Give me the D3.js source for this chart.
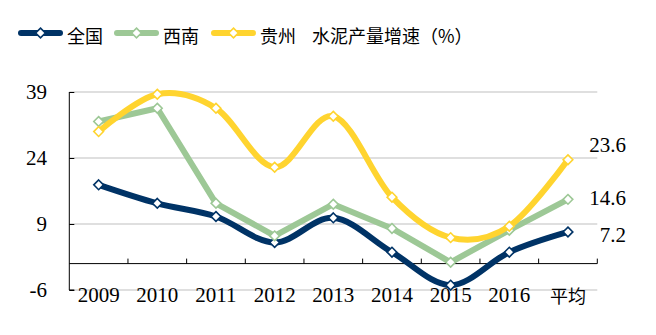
<!DOCTYPE html>
<html>
<head>
<meta charset="utf-8">
<script src="https://cdn.jsdelivr.net/npm/d3@7"></script>
<style>
  html, body { margin: 0; padding: 0; background: #fff; }
  svg { display: block; }
</style>
</head>
<body>
<svg id="chart" width="656" height="335"></svg>
<script>
// Cement output growth (%), 2009–2016 plus the period average
const categories = ["2009", "2010", "2011", "2012", "2013", "2014", "2015", "2016", "平均"];
const nationalValues  = [17.9, 13.7, 10.7, 4.8, 10.4, 2.6, -4.9, 2.6, 7.2];
const southwestValues = [32.3, 35.3, 13.7, 6.3, 13.5, 8.0, 0.3, 7.6, 14.6];
const guizhouValues   = [30.0, 38.5, 35.3, 21.9, 33.5, 15.1, 5.9, 8.5, 23.6];
const yTicks = [-6, 9, 24, 39];
const seriesNames = ["全国", "西南", "贵州"];
const legendTitle = "水泥产量增速（%）";

const series = [
  { name: seriesNames[0], values: nationalValues,  color: "#003366", smooth: true,  labelDy: 3 },
  { name: seriesNames[1], values: southwestValues, color: "#9DC896", smooth: false, labelDy: -1 },
  { name: seriesNames[2], values: guizhouValues,   color: "#FFD42F", smooth: true,  labelDy: -15 }
];

const svg = d3.select("#chart");
const serif = "'Liberation Serif', 'Times New Roman', serif";
const cjk = "'Noto Sans CJK SC', sans-serif";

const x = d3.scaleBand().domain(categories).range([69.3, 597.3]);
const y = d3.scaleLinear().domain([-6, 39]).range([290, 92]);
const cx = c => x(c) + x.bandwidth() / 2;

// horizontal gridlines
svg.append("g")
  .selectAll("line")
  .data(yTicks)
  .join("line")
  .attr("x1", x.range()[0]).attr("x2", x.range()[1])
  .attr("y1", d => y(d)).attr("y2", d => y(d))
  .attr("stroke", "#BFBFBF").attr("stroke-width", 1);

// y axis, ticks pointing inward
const yAxis = svg.append("g")
  .attr("transform", `translate(${x.range()[0]},0)`)
  .call(d3.axisRight(y).tickValues(yTicks).tickSize(5).tickFormat(""));
yAxis.select(".domain").attr("stroke", "#000").attr("d", `M5,${y(-6)}H0V${y(39)}`);
yAxis.selectAll(".tick line").attr("stroke", "#000");

svg.append("g")
  .selectAll("text")
  .data(yTicks)
  .join("text")
  .attr("x", 47).attr("y", d => y(d))
  .attr("text-anchor", "end").attr("dominant-baseline", "central")
  .style("font-family", serif).style("font-size", "21px")
  .text(d => d);

// x axis along zero, tick marks between categories pointing up
const boundaries = categories.map(c => x(c)).concat([x.range()[1]]).slice(1);
const xAxis = svg.append("g");
xAxis.append("line")
  .attr("x1", x.range()[0]).attr("x2", x.range()[1])
  .attr("y1", y(0)).attr("y2", y(0))
  .attr("stroke", "#000").attr("stroke-width", 1);
xAxis.selectAll("line.tk")
  .data(boundaries)
  .join("line").attr("class", "tk")
  .attr("x1", d => d).attr("x2", d => d)
  .attr("y1", y(0) - 5).attr("y2", y(0))
  .attr("stroke", "#000");

svg.append("g")
  .selectAll("text")
  .data(categories)
  .join("text")
  .attr("x", d => cx(d)).attr("y", 295)
  .attr("text-anchor", "middle").attr("dominant-baseline", "central")
  .style("font-family", d => /^\d+$/.test(d) ? serif : cjk)
  .style("font-size", d => /^\d+$/.test(d) ? "21px" : "18px")
  .text(d => d);

// series lines and diamond markers
const diamond = d3.symbol().type(d3.symbolDiamond2).size(60);
series.forEach(s => {
  const pts = s.values.map((v, i) => [cx(categories[i]), y(v)]);
  const line = d3.line().curve(s.smooth ? d3.curveCatmullRom.alpha(0) : d3.curveLinear);
  const g = svg.append("g");
  g.append("path")
    .attr("d", line(pts))
    .attr("fill", "none")
    .attr("stroke", s.color).attr("stroke-width", 6)
    .attr("stroke-linejoin", "round").attr("stroke-linecap", "round");
  g.selectAll("path.mk")
    .data(pts)
    .join("path").attr("class", "mk")
    .attr("d", diamond)
    .attr("transform", d => `translate(${d[0]},${d[1]})`)
    .attr("fill", "#fff").attr("stroke", s.color).attr("stroke-width", 1.6);

  // value label for the average
  const last = s.values[s.values.length - 1];
  svg.append("text")
    .attr("x", 626).attr("y", y(last) + s.labelDy)
    .attr("text-anchor", "end").attr("dominant-baseline", "central")
    .style("font-family", serif).style("font-size", "21px")
    .text(last.toFixed(1));
});

// legend
const legendX = [21, 117, 214];
const legend = svg.append("g");
series.forEach((s, i) => {
  const lx = legendX[i];
  legend.append("line")
    .attr("x1", lx).attr("x2", lx + 39)
    .attr("y1", 33).attr("y2", 33)
    .attr("stroke", s.color).attr("stroke-width", 6).attr("stroke-linecap", "round");
  legend.append("path")
    .attr("d", diamond)
    .attr("transform", `translate(${lx + 19.5},33)`)
    .attr("fill", "#fff").attr("stroke", s.color).attr("stroke-width", 1.6);
  legend.append("text")
    .attr("x", lx + 46).attr("y", 34.5)
    .attr("dominant-baseline", "central")
    .style("font-family", cjk).style("font-size", "18px")
    .text(s.name);
});
legend.append("text")
  .attr("x", 312).attr("y", 34.5)
  .attr("dominant-baseline", "central")
  .style("font-family", cjk).style("font-size", "18px")
  .text(legendTitle);
</script>
</body>
</html>
